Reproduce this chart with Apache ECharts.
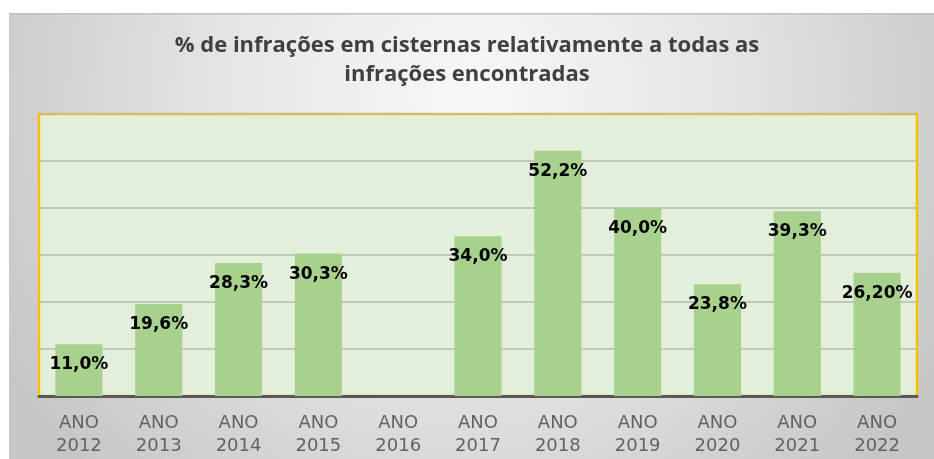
<!DOCTYPE html>
<html>
<head>
<meta charset="utf-8">
<script src="https://cdn.jsdelivr.net/npm/echarts@6/dist/echarts.min.js"></script>
<style>
  html, body { margin: 0; padding: 0; background: #fff; }
  #chart { width: 934px; height: 459px; }
</style>
</head>
<body>
<div id="chart"></div>
<script>
// dados
var anos = ["ANO\n2012", "ANO\n2013", "ANO\n2014", "ANO\n2015", "ANO\n2016", "ANO\n2017",
            "ANO\n2018", "ANO\n2019", "ANO\n2020", "ANO\n2021", "ANO\n2022"];
var percentagens = [11.0, 19.6, 28.3, 30.3, null, 34.0, 52.2, 40.0, 23.8, 39.3, 26.2];
var rotulos = ["11,0%", "19,6%", "28,3%", "30,3%", "", "34,0%", "52,2%", "40,0%", "23,8%", "39,3%", "26,20%"];

var myChart = echarts.init(document.getElementById("chart"));
var option = {
  backgroundColor: "#ffffff",
  animation: false,
  graphic: [
    {
      type: "rect",
      left: 9,
      top: 13,
      z: -10,
      shape: { width: 925, height: 446 },
      style: {
        fill: new echarts.graphic.RadialGradient(0.5, 0.2, 1.2, [
          { offset: 0, color: "#f8f8f8" },
          { offset: 0.45, color: "#e6e6e6" },
          { offset: 1, color: "#c6c6c6" }
        ])
      }
    },
    {
      // linha superior mais escura da moldura
      type: "rect",
      left: 9,
      top: 13,
      z: -9,
      shape: { width: 925, height: 1.5 },
      style: { fill: "#c0c0c0" }
    }
  ],
  title: {
    text: "% de infrações em cisternas relativamente a todas as\ninfrações encontradas",
    left: "center",
    top: 26,
    textStyle: {
      fontFamily: "Open Sans, sans-serif",
      fontSize: 22,
      fontWeight: "bold",
      color: "#404040",
      lineHeight: 29
    }
  },
  grid: {
    left: 39,
    right: 17,
    top: 114,
    bottom: 63,
    show: true,
    backgroundColor: "#e2efda",
    borderColor: "#ffc000",
    borderWidth: 2.5
  },
  xAxis: {
    type: "category",
    data: anos,
    axisTick: { show: false },
    axisLine: { lineStyle: { color: "#595959", width: 3 } },
    axisLabel: {
      color: "#626262",
      fontFamily: "DejaVu Sans",
      fontSize: 18,
      lineHeight: 23,
      margin: 16
    }
  },
  yAxis: {
    type: "value",
    min: 0,
    max: 60,
    interval: 10,
    axisLabel: { show: false },
    axisLine: { show: false },
    axisTick: { show: false },
    splitLine: { lineStyle: { color: "#b4bcae", width: 1.5 } }
  },
  series: [
    {
      type: "bar",
      data: percentagens,
      barWidth: "59%",
      itemStyle: { color: "#a9d18e" },
      label: {
        show: true,
        position: "insideTop",
        distance: 12,
        formatter: function (p) {
          return rotulos[p.dataIndex];
        },
        color: "#000",
        fontFamily: "DejaVu Sans",
        fontWeight: "bold",
        fontSize: 17
      }
    }
  ]
};
option && myChart.setOption(option);
window.addEventListener("resize", function () {
  myChart.resize();
});
</script>
</body>
</html>
